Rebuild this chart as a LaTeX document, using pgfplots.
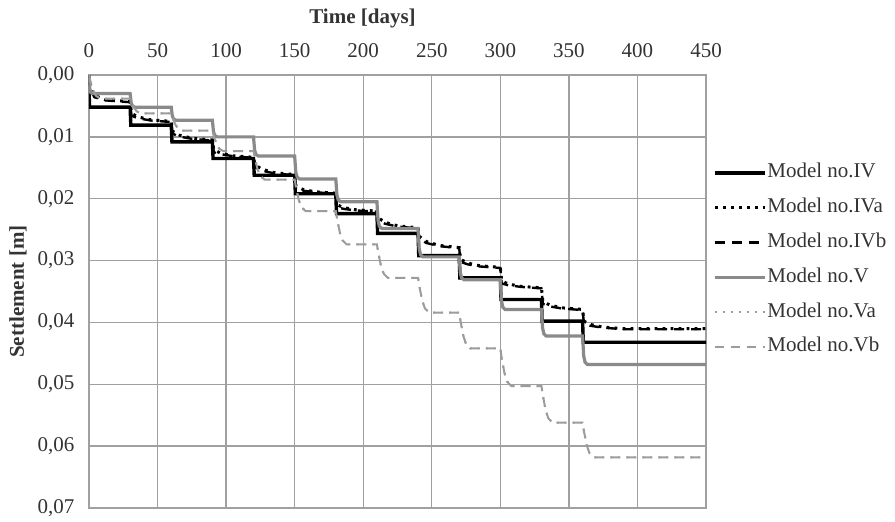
\documentclass[border=0pt]{standalone}
\usepackage{fontspec}
\setmainfont{Liberation Serif}
\usepackage{pgfplots}
\pgfplotsset{compat=1.18}
\definecolor{gridc}{HTML}{A0A0A0}
\definecolor{vgray}{HTML}{8A8A8A}
\definecolor{lgray}{HTML}{9C9C9C}
\definecolor{txt}{HTML}{333333}
\begin{document}
\begin{tikzpicture}[font=\fontsize{21bp}{25bp}\selectfont]
\begin{axis}[
  width=617bp, height=433bp, scale only axis,
  xmin=0, xmax=450, ymin=0, ymax=0.07, y dir=reverse,
  xtick={0,50,100,150,200,250,300,350,400,450},
  ytick={0,0.01,0.02,0.03,0.04,0.05,0.06,0.07},
  xticklabel pos=right,
  grid=major,
  major grid style={draw=gridc, line width=1.4bp},
  axis line style={draw=gridc, line width=1.4bp},
  major tick length=0pt,
  /pgf/number format/assume math mode=true,
  ticklabel style={text=txt},
  xticklabel style={yshift=14bp},
  yticklabel style={xshift=-11bp, /pgf/number format/.cd, fixed, fixed zerofill, precision=2, use comma},
  scaled y ticks=false,
  xlabel={\textbf{Time [days]}},
  xlabel style={at={(axis description cs:0.4433,1.1316)}, anchor=center, text=txt},
  ylabel={\textbf{Settlement [m]}},
  ylabel style={at={(axis description cs:-0.1151,0.5)}, anchor=center, text=txt},
  legend cell align=left,
  legend image code/.code={\draw[#1] (0bp,0bp) -- (50bp,0bp);},
  legend style={draw=none, fill=none, inner sep=0pt, outer sep=0pt,
    at={(axis description cs:1,0.573)}, anchor=west, xshift=7bp,
    column sep=1bp, row sep=14.8bp,
    nodes={inner sep=0pt, text height=15bp, text depth=5bp, text=txt}},
]
% Model no.IV
\addplot[black, line width=3.4bp] coordinates {
(0,0) (0.3,0.0052) (30,0.0052) (30.5,0.0081) (60,0.0081) (60.5,0.0108) (90,0.0108) (90.5,0.0135)
(120,0.0135) (120.5,0.0162) (150,0.0162) (150.5,0.0192) (180,0.0192) (180.5,0.0224)
(210,0.0224) (210.5,0.0256) (240,0.0256) (240.5,0.0292) (270,0.0292) (270.5,0.0328)
(300,0.0328) (300.5,0.0363) (330,0.0363) (330.5,0.0398) (360,0.0398) (360.5,0.0432) (450,0.0432)};
\addlegendentry{Model no.IV}
% Model no.IVa
\addplot[black, line width=3bp, dash pattern=on 2.8bp off 5.2bp] coordinates {
(0,0) (1,0.0020) (4,0.0033) (12,0.0040) (30,0.0043)
(31,0.0062) (36,0.00679) (45,0.00724) (60,0.0075)
(61,0.0091) (66,0.00973) (75,0.01022) (90,0.0105)
(91,0.0121) (96,0.01264) (105,0.01306) (120,0.0133)
(121,0.0145) (126,0.01522) (135,0.01578) (150,0.0161)
(151,0.0180) (156,0.0185) (165,0.01888) (180,0.0191)
(181,0.0210) (186,0.02145) (195,0.0218) (210,0.0220)
(211,0.0231) (216,0.02382) (225,0.02438) (240,0.0247)
(241,0.0261) (246,0.02691) (255,0.02754) (270,0.0279)
(271,0.0298) (276,0.03039) (285,0.03084) (300,0.0311)
(301,0.0333) (306,0.0338) (315,0.03418) (330,0.0344)
(331,0.0366) (336,0.03719) (345,0.03764) (360,0.0379)
(361,0.0398) (366,0.04034) (375,0.04076) (390,0.0410) (450,0.0410)};
\addlegendentry{Model no.IVa}
% Model no.IVb
\addplot[black, line width=2.4bp, dash pattern=on 10bp off 7bp] coordinates {
(0,0) (1,0.0024) (4,0.0036) (12,0.0041) (30,0.0044)
(31,0.0066) (36,0.00700) (45,0.00735) (60,0.0076)
(61,0.0095) (66,0.00995) (75,0.01032) (90,0.0106)
(91,0.0125) (96,0.01280) (105,0.01312) (120,0.0134)
(121,0.0149) (126,0.01545) (135,0.01590) (150,0.0162)
(151,0.0184) (156,0.0187) (165,0.01895) (180,0.0192)
(181,0.0214) (186,0.02165) (195,0.0219) (210,0.0221)
(211,0.0235) (216,0.02405) (225,0.02450) (240,0.0248)
(241,0.0265) (246,0.02715) (255,0.02765) (270,0.0280)
(271,0.0302) (276,0.03060) (285,0.03095) (300,0.0312)
(301,0.0337) (306,0.0340) (315,0.03425) (330,0.0345)
(331,0.0370) (336,0.03740) (345,0.03775) (360,0.0380)
(361,0.0402) (366,0.04055) (375,0.04085) (390,0.0411) (450,0.0411)};
\addlegendentry{Model no.IVb}
% Model no.V
\addplot[vgray, line width=3.2bp] coordinates {
(0,0) (0.5,0.0021) (1.2,0.0028) (2.5,0.0030)
(30,0.0030) (30.8,0.00454) (31.8,0.00502) (33.5,0.0052)
(60,0.0052) (60.8,0.00667) (61.8,0.00713) (63.5,0.0073)
(90,0.0073) (90.8,0.00919) (91.8,0.00978) (93.5,0.0100)
(120,0.0100) (120.8,0.01217) (121.8,0.01285) (123.5,0.0131)
(150,0.0131) (150.8,0.01569) (151.8,0.0165) (153.5,0.0168)
(180,0.0168) (180.8,0.01939) (181.8,0.0202) (183.5,0.0205)
(210,0.0205) (210.8,0.02351) (211.8,0.02446) (213.5,0.0248)
(240,0.0248) (240.8,0.02802) (241.8,0.02903) (243.5,0.0294)
(270,0.0294) (270.8,0.03199) (271.8,0.0328) (273.5,0.0331)
(300,0.0331) (300.8,0.03646) (301.8,0.03752) (303.5,0.0379)
(330,0.0379) (330.8,0.04091) (331.8,0.04186) (333.5,0.0422)
(360,0.0422) (360.8,0.04542) (361.8,0.04643) (363.5,0.0468) (450,0.0468)};
\addlegendentry{Model no.V}
% Model no.Va
\addplot[lgray, line width=2bp, dash pattern=on 2bp off 6bp] coordinates {
(0,0) (1,0.00095) (3,0.00247) (5,0.00334) (8,0.0038)
(30,0.0038) (31,0.0044) (33,0.00536) (35,0.00591) (38,0.0062)
(60,0.0062) (61,0.0069) (63,0.00802) (65,0.00866) (68,0.0090)
(90,0.0090) (91,0.00983) (93,0.01115) (95,0.0119) (98,0.0123)
(120,0.0123) (121,0.01345) (123,0.01529) (125,0.01635) (128,0.0169)
(150,0.0169) (151,0.01818) (153,0.02022) (155,0.02139) (158,0.0220)
(180,0.0220) (181,0.02335) (183,0.02551) (185,0.02675) (188,0.0274)
(210,0.0274) (211,0.02875) (213,0.03091) (215,0.03215) (218,0.0328)
(240,0.0328) (241,0.0342) (243,0.03644) (245,0.03773) (248,0.0384)
(270,0.0384) (271,0.03985) (273,0.04217) (275,0.0435) (278,0.0442)
(300,0.0442) (301,0.04573) (303,0.04817) (305,0.04957) (308,0.0503)
(330,0.0503) (331,0.05178) (333,0.05414) (335,0.05549) (338,0.0562)
(360,0.0562) (361,0.0576) (363,0.05984) (365,0.06113) (368,0.0618) (450,0.0618)};
\addlegendentry{Model no.Va}
% Model no.Vb
\addplot[lgray, line width=2bp, dash pattern=on 9bp off 7bp] coordinates {
(0,0) (1,0.00095) (3,0.00247) (5,0.00334) (8,0.0038)
(30,0.0038) (31,0.0044) (33,0.00536) (35,0.00591) (38,0.0062)
(60,0.0062) (61,0.0069) (63,0.00802) (65,0.00866) (68,0.0090)
(90,0.0090) (91,0.00983) (93,0.01115) (95,0.0119) (98,0.0123)
(120,0.0123) (121,0.01345) (123,0.01529) (125,0.01635) (128,0.0169)
(150,0.0169) (151,0.01818) (153,0.02022) (155,0.02139) (158,0.0220)
(180,0.0220) (181,0.02335) (183,0.02551) (185,0.02675) (188,0.0274)
(210,0.0274) (211,0.02875) (213,0.03091) (215,0.03215) (218,0.0328)
(240,0.0328) (241,0.0342) (243,0.03644) (245,0.03773) (248,0.0384)
(270,0.0384) (271,0.03985) (273,0.04217) (275,0.0435) (278,0.0442)
(300,0.0442) (301,0.04573) (303,0.04817) (305,0.04957) (308,0.0503)
(330,0.0503) (331,0.05178) (333,0.05414) (335,0.05549) (338,0.0562)
(360,0.0562) (361,0.0576) (363,0.05984) (365,0.06113) (368,0.0618) (450,0.0618)};
\addlegendentry{Model no.Vb}
\end{axis}
\pgfresetboundingbox
\path (-89bp,-14bp) rectangle (806bp,508bp);
\end{tikzpicture}
\end{document}
